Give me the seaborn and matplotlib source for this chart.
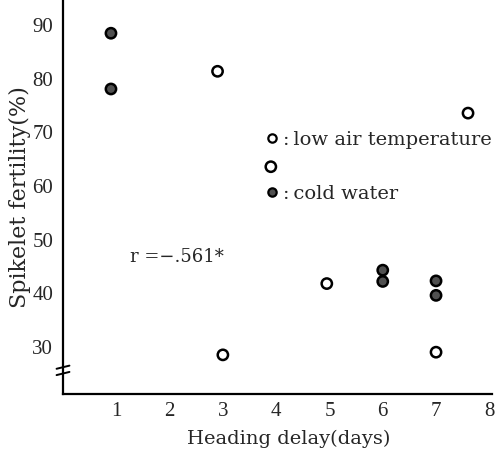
import matplotlib
matplotlib.use("Agg")
import matplotlib.pyplot as plt
from matplotlib.lines import Line2D
import seaborn as sns
import pandas as pd

# Data
air_x = [2.9, 3.9, 3.0, 4.95, 7.0, 7.6]
air_y = [81.4, 63.6, 28.5, 41.8, 29.0, 73.6]
water_x = [0.9, 0.9, 6.0, 6.0, 7.0, 7.0]
water_y = [88.5, 78.1, 44.3, 42.2, 42.3, 39.6]
groups = ["low air temperature", "cold water"]
x_ticks = [1, 2, 3, 4, 5, 6, 7, 8]
y_ticks = [30, 40, 50, 60, 70, 80, 90]

df = pd.DataFrame({
    "x": air_x + water_x,
    "y": air_y + water_y,
    "group": [groups[0]] * len(air_x) + [groups[1]] * len(water_x),
})

sns.set_style("white")
plt.rcParams["font.family"] = ["Liberation Serif", "DejaVu Serif"]
wide = ["DejaVu Serif"]

fig = plt.figure(figsize=(5.01, 4.49), dpi=100)
ax = fig.add_axes([63 / 501, 55 / 449, 429 / 501, 394 / 449])

palette = {groups[0]: "white", groups[1]: "#505050"}
sns.scatterplot(data=df, x="x", y="y", hue="group", palette=palette,
                s=55, edgecolor="black", linewidth=1.8, legend=False, ax=ax,
                zorder=3)

ax.set_xlim(0, 8.05)
ax.set_ylim(21.2, 94.7)
ax.set_xticks(x_ticks)
ax.set_yticks(y_ticks)
ax.tick_params(axis="x", direction="in", length=5, width=1.2, labelsize=15, pad=6)
ax.tick_params(axis="y", direction="out", length=5, width=1.2, labelsize=15, pad=2)
for s in ["top", "right"]:
    ax.spines[s].set_visible(False)
for s in ["left", "bottom"]:
    ax.spines[s].set_linewidth(1.6)
    ax.spines[s].set_color("black")

ax.set_xlabel("Heading delay(days)", fontsize=14, family=wide)
ax.xaxis.set_label_coords(0.525, -0.092)
ax.set_ylabel("Spikelet fertility(%)", fontsize=16, family=wide, labelpad=1)

# axis break marks
for yb in [0.068, 0.052]:
    ax.plot([-0.015, 0.015], [yb - 0.004, yb + 0.004], transform=ax.transAxes,
            color="black", lw=1.4, clip_on=False, zorder=5)

ax.text(1.25, 46.8, "r =\u2212.561*", fontsize=13, family=wide,
        va="center", ha="left")

handles = [
    Line2D([], [], marker="o", linestyle="none", markersize=6,
           markerfacecolor=palette[g], markeredgecolor="black", markeredgewidth=1.6)
    for g in groups
]
leg = ax.legend(handles, [":" + "\u2009" + g for g in groups], loc="upper left",
                bbox_to_anchor=(0.473, 0.668), frameon=False,
                prop={"family": wide, "size": 14},
                handlelength=0.6, handletextpad=0.3, labelspacing=1.85,
                borderaxespad=0, borderpad=0)

fig.savefig("out.png", dpi=100, facecolor="white")
